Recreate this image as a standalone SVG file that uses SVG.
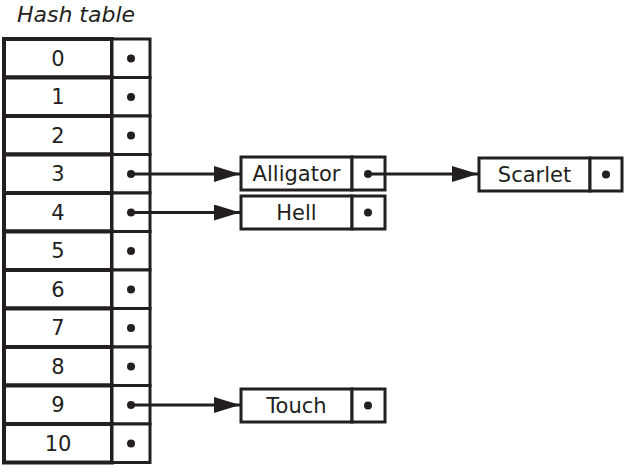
<svg xmlns="http://www.w3.org/2000/svg" width="625" height="465" viewBox="0 0 625 465">
<style>
.cell{fill:#fff;stroke:#231f20;stroke-width:4}
.cellr{fill:#fff;stroke:#231f20;stroke-width:3}
.box{fill:#fff;stroke:#231f20;stroke-width:3}
.t{font-family:"DejaVu Sans","Liberation Sans",sans-serif;font-size:21px;fill:#231f20;text-anchor:middle;dominant-baseline:central}
.dot{fill:#231f20}
.c{stroke:#231f20;stroke-width:3;fill:none}
</style>
<defs>
<marker id="ah" markerUnits="userSpaceOnUse" markerWidth="26" markerHeight="16" refX="26" refY="8" orient="auto">
<path d="M0,0 L26,8 L0,16 Z" fill="#231f20"/>
</marker>
</defs>
<text x="76" y="14" class="t" style="font-style:italic;font-size:22px">Hash table</text>
<g id="table">
<g id="row0"><rect x="4" y="39" width="108" height="38.5" class="cell"/><rect x="112" y="39" width="38" height="38.5" class="cellr"/><text x="58" y="58.5" class="t">0</text><circle cx="131" cy="58.5" r="4" class="dot"/></g>
<g id="row1"><rect x="4" y="77.5" width="108" height="38.5" class="cell"/><rect x="112" y="77.5" width="38" height="38.5" class="cellr"/><text x="58" y="97" class="t">1</text><circle cx="131" cy="97" r="4" class="dot"/></g>
<g id="row2"><rect x="4" y="116" width="108" height="38.5" class="cell"/><rect x="112" y="116" width="38" height="38.5" class="cellr"/><text x="58" y="135.5" class="t">2</text><circle cx="131" cy="135.5" r="4" class="dot"/></g>
<g id="row3"><rect x="4" y="154.5" width="108" height="38.5" class="cell"/><rect x="112" y="154.5" width="38" height="38.5" class="cellr"/><text x="58" y="174" class="t">3</text><circle cx="131" cy="174" r="4" class="dot"/></g>
<g id="row4"><rect x="4" y="193" width="108" height="38.5" class="cell"/><rect x="112" y="193" width="38" height="38.5" class="cellr"/><text x="58" y="212.5" class="t">4</text><circle cx="131" cy="212.5" r="4" class="dot"/></g>
<g id="row5"><rect x="4" y="231.5" width="108" height="38.5" class="cell"/><rect x="112" y="231.5" width="38" height="38.5" class="cellr"/><text x="58" y="251" class="t">5</text><circle cx="131" cy="251" r="4" class="dot"/></g>
<g id="row6"><rect x="4" y="270" width="108" height="38.5" class="cell"/><rect x="112" y="270" width="38" height="38.5" class="cellr"/><text x="58" y="289.5" class="t">6</text><circle cx="131" cy="289.5" r="4" class="dot"/></g>
<g id="row7"><rect x="4" y="308.5" width="108" height="38.5" class="cell"/><rect x="112" y="308.5" width="38" height="38.5" class="cellr"/><text x="58" y="328" class="t">7</text><circle cx="131" cy="328" r="4" class="dot"/></g>
<g id="row8"><rect x="4" y="347" width="108" height="38.5" class="cell"/><rect x="112" y="347" width="38" height="38.5" class="cellr"/><text x="58" y="366.5" class="t">8</text><circle cx="131" cy="366.5" r="4" class="dot"/></g>
<g id="row9"><rect x="4" y="385.5" width="108" height="38.5" class="cell"/><rect x="112" y="385.5" width="38" height="38.5" class="cellr"/><text x="58" y="405" class="t">9</text><circle cx="131" cy="405" r="4" class="dot"/></g>
<g id="row10"><rect x="4" y="424" width="108" height="38.5" class="cell"/><rect x="112" y="424" width="38" height="38.5" class="cellr"/><text x="58" y="443.5" class="t">10</text><circle cx="131" cy="443.5" r="4" class="dot"/></g>
</g>
<g id="alligator"><rect x="241" y="157" width="111" height="33" class="box"/><rect x="352" y="157" width="33" height="33" class="box"/><text x="296.5" y="173.5" class="t">Alligator</text><circle cx="368" cy="174" r="4" class="dot"/></g>
<g id="hell"><rect x="241" y="196" width="111" height="33" class="box"/><rect x="352" y="196" width="33" height="33" class="box"/><text x="296.5" y="212.5" class="t">Hell</text><circle cx="368" cy="212.5" r="4" class="dot"/></g>
<g id="scarlet"><rect x="479" y="158" width="111" height="33" class="box"/><rect x="590" y="158" width="32" height="33" class="box"/><text x="534.5" y="174.5" class="t">Scarlet</text><circle cx="606" cy="174.5" r="4" class="dot"/></g>
<g id="touch"><rect x="241" y="389" width="111" height="33" class="box"/><rect x="352" y="389" width="33" height="33" class="box"/><text x="296.5" y="405.5" class="t">Touch</text><circle cx="368" cy="405.5" r="4" class="dot"/></g>
<g id="connectors">
<line x1="131" y1="174" x2="240" y2="174" class="c" marker-end="url(#ah)"/>
<line x1="131" y1="212.5" x2="240" y2="212.5" class="c" marker-end="url(#ah)"/>
<line x1="131" y1="405" x2="240" y2="405" class="c" marker-end="url(#ah)"/>
<line x1="368" y1="174" x2="478" y2="174" class="c" marker-end="url(#ah)"/>
</g>
</svg>
